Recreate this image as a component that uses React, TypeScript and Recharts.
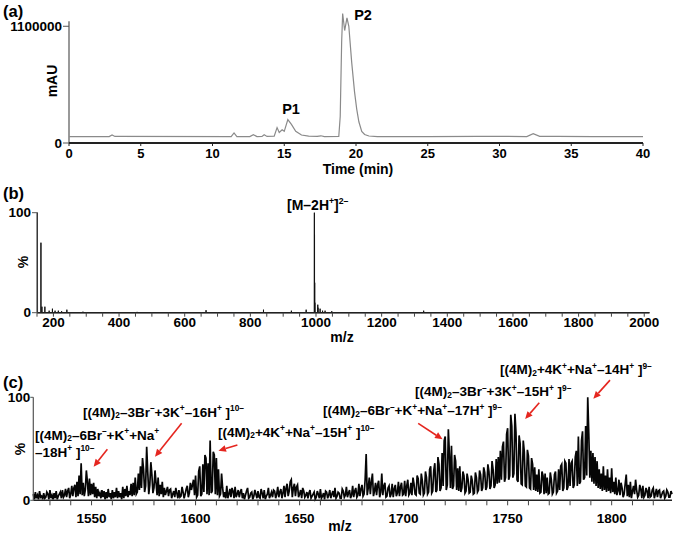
import React from 'react';
import { LineChart, Line, XAxis, YAxis, ReferenceLine } from 'recharts';

const FONT = '"Liberation Sans", Arial, Helvetica, sans-serif';

// ---------- Panel (a): HPLC chromatogram ----------
const hplcTime = [0, 2.8, 3.0, 3.2, 11.3, 11.5, 11.7, 12.6, 12.85, 13.1, 13.45, 13.6, 13.8, 14.3, 14.5, 14.65, 14.85, 15.0, 15.25, 15.5, 15.8, 16.2, 16.7, 17.3, 17.55, 17.8, 18.8, 18.9, 19.0, 19.07, 19.21, 19.37, 19.5, 19.7, 19.9, 20.05, 20.2, 20.4, 20.6, 20.9, 21.5, 25, 28.5, 31.9, 32.35, 32.8, 34, 36.5, 40];
const hplcSignal = [60000, 60000, 75000, 62000, 60000, 95000, 60000, 60000, 78000, 60000, 62000, 78000, 62000, 65000, 145000, 100000, 125000, 110000, 220000, 175000, 110000, 75000, 64000, 62000, 68000, 61000, 62000, 250000, 950000, 1220000, 1060000, 1180000, 1100000, 760000, 480000, 320000, 200000, 110000, 80000, 66000, 61000, 60000, 63000, 61000, 88000, 62000, 63000, 61000, 60000];
const hplcXTicks = [0, 5, 10, 15, 20, 25, 30, 35, 40];
const hplcYTicks = [0, 1100000];

// ---------- Panel (b): ESI-MS, full range ----------
const msPeakMz = [151.5, 162, 165, 174, 187, 197, 205, 215, 225, 241, 290, 455, 665, 840, 925, 970, 995, 995.5, 996, 996.5, 1005.4, 1006, 1012.5, 1020, 1027.6, 1048, 1328];
const msPeakIntensity = [100, 70, 6, 6, 2, 4, 2, 2, 1.5, 3, 1, 0.8, 2.5, 3, 2, 3, 100, 78, 30, 10, 8, 5, 4, 2, 2, 1.5, 2];
const msXTicks = [150, 200, 250, 300, 350, 400, 450, 500, 550, 600, 650, 700, 750, 800, 850, 900, 950, 1000, 1050, 1100, 1150, 1200, 1250, 1300, 1350, 1400, 1450, 1500, 1550, 1600, 1650, 1700, 1750, 1800, 1850, 1900, 1950, 2000];
const msYTicks = [0, 100];

// ---------- Panel (c): ESI-MS, zoomed, sampled every 0.5 m/z ----------
const esiStartA = 1522;
const esiA = [
  6,1, 8,2, 5,1, 9,3, 4,1,
  7,2, 3,8, 6,1, 10,2, 5,1,
  7,2, 9,1, 4,6, 8,2, 10,3,
  5,11, 3,9, 12,2, 6,14, 4,12,
  15,3, 18,4, 24,6, 36,5, 17,4,
  10,29, 18,4, 21,5, 16,6, 17,3,
  13,2, 11,4, 7,2, 10,3, 9,1,
  8,2, 11,3, 7,1, 10,2, 8,3,
  12,2, 9,3, 7,1, 13,2, 11,4,
  14,3, 9,5, 16,4, 17,5, 22,6,
  8,26, 10,33, 12,41, 30,8, 14,52,
  28,6, 15,37, 25,7, 12,29, 17,5,
  22,4, 15,6, 18,3, 12,5, 9,13,
  4,10, 11,2, 6,9, 3,12, 7,2,
  10,3, 4,13, 8,2, 6,11, 14,3,
  7,17, 10,15, 20,5,
];
const esiStartB = 1600;
const esiB = [
  24,3, 5,28, 33,4, 6,35, 8,44,
  41,6, 36,5, 58,7, 9,47, 44,6,
  41,5, 30,4, 6,26, 12,3, 8,2,
  14,2, 6,11, 3,12, 9,2, 13,3,
  6,10, 3,8, 11,2, 7,1, 5,9,
  12,2, 3,7, 8,1, 4,10, 6,2,
  9,3, 2,11, 7,2, 10,1, 4,6,
  12,2, 5,8, 3,10, 9,2, 6,13,
  3,8, 11,2, 7,14, 3,12, 16,4,
  9,18, 20,3, 12,16, 4,13, 15,3,
  6,10, 2,12, 9,3, 5,8, 2,7,
  10,2, 4,6, 8,1, 3,9, 6,2,
  11,2, 4,7, 1,9, 8,2, 5,10,
  2,6, 9,3, 12,2, 4,8, 7,2,
  2,11, 9,3, 5,13, 3,7, 10,2,
  5,14, 3,9, 12,3, 5,16, 4,11,
  15,4, 6,20, 45,5, 12,22, 6,18,
  26,4, 9,17, 5,15, 19,3, 8,26,
  5,14, 17,3, 4,12, 14,3, 6,16,
  3,11, 15,4, 7,18, 4,13, 17,5,
];
const esiStartC = 1700;
const esiC = [
  6,19, 4,14, 20,5, 7,17, 5,22,
  16,6, 5,24, 21,7, 6,26, 19,5,
  7,28, 22,6, 8,30, 33,7, 9,29,
  36,8, 10,42, 35,9, 12,46, 14,58,
  62,10, 15,69, 45,12, 53,11, 14,44,
  38,10, 31,9, 33,8, 12,28, 24,7,
  9,26, 20,7, 8,24, 19,6, 7,27,
  22,8, 10,29, 25,9, 12,32, 27,10,
  13,35, 28,11, 14,38, 30,12, 15,40,
  16,42, 17,48, 20,52, 57,18, 22,64,
  70,20, 24,83, 72,22, 26,84, 66,20,
  18,63, 55,16, 15,58, 47,14, 13,49,
  43,12, 11,41, 35,10, 32,9, 25,8,
  30,7, 8,28, 24,6, 26,7, 22,6,
  7,27, 20,6, 8,25, 28,7, 9,30,
  10,33, 35,9, 12,38, 36,10, 13,40,
  14,36, 38,12, 15,42, 48,14, 62,16,
  18,58, 67,20, 22,72, 24,100, 65,22,
  48,18, 46,16, 42,14, 38,12, 30,11,
  26,9, 33,10, 24,8, 30,9, 22,7,
  31,8, 18,6, 22,5, 9,20, 5,17,
  12,3, 6,16, 25,4, 15,3, 18,2,
  9,14, 6,20, 10,3, 5,15, 11,2,
  14,3, 5,12, 9,2, 13,3, 4,10,
  12,2, 6,11, 3,9, 10,2, 5,8,
  9,2, 4,10, 8,3, 3,9, 6,
];
const esiStep = 0.5;
const esiXTicks = [1530, 1540, 1550, 1560, 1570, 1580, 1590, 1600, 1610, 1620, 1630, 1640, 1650, 1660, 1670, 1680, 1690, 1700, 1710, 1720, 1730, 1740, 1750, 1760, 1770, 1780, 1790, 1800, 1810, 1820];
const esiYTicks = [0, 100];

// annotation arrows for panel (c): tail -> head, in data coordinates (m/z, %)
const arrowTailMz = [1557.6, 1593.3, 1620.1, 1707.0, 1765.2, 1799.2];
const arrowTailPct = [49.5, 74.7, 53.7, 74.7, 94.7, 116.7];
const arrowHeadMz = [1551.0, 1580.5, 1611.0, 1718.7, 1758.4, 1791.2];
const arrowHeadPct = [32.6, 42.3, 48.2, 59.2, 78.9, 98.6];

// ---------- tables built for the library ----------
const dataA = hplcTime.map((t, i) => ({ t, v: hplcSignal[i] }));

const dataB = (() => {
  const pts: { mz: number; v: number }[] = [{ mz: 150, v: 0 }];
  msPeakMz.forEach((mz, i) => {
    pts.push({ mz: mz - 0.12, v: 0 });
    pts.push({ mz, v: msPeakIntensity[i] });
    pts.push({ mz: mz + 0.12, v: 0 });
  });
  pts.push({ mz: 2016, v: 0 });
  return pts.sort((a, b) => a.mz - b.mz);
})();

const dataC = [
  ...esiA.map((v, i) => ({ mz: esiStartA + i * esiStep, v })),
  ...esiB.map((v, i) => ({ mz: esiStartB + i * esiStep, v })),
  ...esiC.map((v, i) => ({ mz: esiStartC + i * esiStep, v })),
];

// ---------- helpers ----------
const tickStyle = (size: number) => ({ fill: '#000', fontSize: size, fontWeight: 'bold', fontFamily: FONT });

const ArrowShape = (props: any) => {
  const { x1, y1, x2, y2 } = props;
  const ang = Math.atan2(y2 - y1, x2 - x1);
  const L = 7.5;
  const W = 3.4;
  const bx = x2 - L * Math.cos(ang);
  const by = y2 - L * Math.sin(ang);
  const pts = `${x2},${y2} ${bx + W * Math.sin(ang)},${by - W * Math.cos(ang)} ${bx - W * Math.sin(ang)},${by + W * Math.cos(ang)}`;
  return (
    <g>
      <line x1={x1} y1={y1} x2={bx} y2={by} stroke="#e5261f" strokeWidth={1.6} />
      <polygon points={pts} fill="#e5261f" />
    </g>
  );
};

const T = ({ x, y, children, size = 14, rotate = 0, center = true, lh = 1 }: any) => (
  <div
    style={{
      position: 'absolute',
      left: x,
      top: y,
      transform: `translate(${center ? '-50%' : '0'}, -50%) rotate(${rotate}deg)`,
      whiteSpace: 'nowrap',
      fontWeight: 'bold',
      fontSize: size,
      lineHeight: lh,
      fontFamily: FONT,
      color: '#000',
    }}
  >
    {children}
  </div>
);

const Sup = ({ children }: any) => (
  <span style={{ fontSize: '62%', position: 'relative', top: '-0.6em' }}>{children}</span>
);
const Sub = ({ children }: any) => (
  <span style={{ fontSize: '62%', position: 'relative', top: '0.22em' }}>{children}</span>
);

const layer: React.CSSProperties = { position: 'absolute', left: 0, top: 0 };

export default function App() {
  return (
    <div style={{ position: 'absolute', left: 0, top: 0, width: 675, height: 533, background: '#fff', overflow: 'hidden' }}>
      {/* Panel (a) */}
      <div style={layer}>
        <LineChart width={675} height={533} data={dataA} margin={{ top: 11, right: 32, left: 9, bottom: 360 }}>
          <XAxis
            dataKey="t"
            type="number"
            domain={[0, 40]}
            ticks={hplcXTicks}
            interval={0}
            height={30}
            tickSize={3}
            tickMargin={3}
            axisLine={{ stroke: '#222', strokeWidth: 1.8 }}
            tickLine={{ stroke: '#222' }}
            tick={tickStyle(13)}
          />
          <YAxis
            type="number"
            domain={[0, 1244000]}
            ticks={hplcYTicks}
            interval={0}
            width={60}
            axisLine={false}
            tickSize={6}
            tickMargin={1}
            tickLine={{ stroke: '#555' }}
            tick={tickStyle(13.5)}
          />
          <ReferenceLine segment={[{ x: 0, y: 0 }, { x: 0, y: 1147000 }]} stroke="#555" strokeWidth={1.2} ifOverflow="visible" />
          <Line dataKey="v" type="linear" stroke="#8a8a8a" strokeWidth={1.2} dot={false} isAnimationActive={false} />
        </LineChart>
      </div>

      {/* Panel (b) */}
      <div style={layer}>
        <LineChart width={675} height={533} data={dataB} margin={{ top: 212.7, right: 25.5, left: 7, bottom: 190.3 }}>
          <XAxis
            dataKey="mz"
            type="number"
            domain={[150, 2016]}
            ticks={msXTicks}
            interval={0}
            height={30}
            tickSize={4}
            tickMargin={1}
            tickFormatter={(v: number) => (v % 200 === 0 ? String(v) : '')}
            axisLine={{ stroke: '#222', strokeWidth: 1.6 }}
            tickLine={{ stroke: '#444' }}
            tick={tickStyle(13.5)}
          />
          <YAxis
            type="number"
            domain={[0, 100]}
            ticks={msYTicks}
            interval={0}
            width={30}
            tickSize={5}
            tickMargin={1}
            axisLine={{ stroke: '#555', strokeWidth: 1.2 }}
            tickLine={{ stroke: '#555' }}
            tick={tickStyle(13.5)}
          />
          <Line dataKey="v" type="linear" stroke="#111" strokeWidth={1} dot={false} isAnimationActive={false} />
        </LineChart>
      </div>

      {/* Panel (c) */}
      <div style={layer}>
        <LineChart width={675} height={533} data={dataC} margin={{ top: 397.3, right: 3, left: 3.3, bottom: 2.7 }}>
          <XAxis
            dataKey="mz"
            type="number"
            domain={[1522, 1829]}
            ticks={esiXTicks}
            interval={0}
            height={30}
            tickSize={5}
            tickMargin={8}
            tickFormatter={(v: number) => (v % 50 === 0 ? String(v) : '')}
            axisLine={{ stroke: '#222', strokeWidth: 1.6 }}
            tickLine={{ stroke: '#444' }}
            tick={tickStyle(13.5)}
          />
          <YAxis
            type="number"
            domain={[0, 100]}
            ticks={esiYTicks}
            interval={0}
            width={30}
            tickSize={3}
            tickMargin={0}
            axisLine={{ stroke: '#555', strokeWidth: 1.2 }}
            tickLine={{ stroke: '#555' }}
            tick={tickStyle(13.5)}
          />
          <Line dataKey="v" type="linear" stroke="#050505" strokeWidth={1.7} strokeLinejoin="miter" dot={false} isAnimationActive={false} />
          {arrowTailMz.map((mz, i) => (
            <ReferenceLine
              key={i}
              segment={[{ x: mz, y: arrowTailPct[i] }, { x: arrowHeadMz[i], y: arrowHeadPct[i] }]}
              ifOverflow="visible"
              shape={ArrowShape}
            />
          ))}
        </LineChart>
      </div>

      {/* Text overlays */}
      <T x={3} y={11} size={16.5} center={false}>(a)</T>
      <T x={3} y={193} size={16.5} center={false}>(b)</T>
      <T x={3} y={381.5} size={16.5} center={false}>(c)</T>

      <T x={52} y={81} rotate={-90}>mAU</T>
      <T x={358} y={168.5}>Time (min)</T>
      <T x={291} y={109} size={14.5}>P1</T>
      <T x={363} y={15} size={14.5}>P2</T>

      <T x={23} y={262} rotate={-90}>%</T>
      <T x={342} y={337}>m/z</T>
      <T x={287} y={204.5} center={false}>[M–2H<Sup>+</Sup>]<Sup>2–</Sup></T>

      <T x={20} y={449} rotate={-90}>%</T>
      <T x={340} y={526}>m/z</T>
      <T x={35} y={444.5} center={false} size={13.5} lh="15px">
        [(4M)<Sub>2</Sub>–6Br<Sup>–</Sup>+K<Sup>+</Sup>+Na<Sup>+</Sup>
        <br />
        –18H<Sup>+</Sup> ]<Sup>10–</Sup>
      </T>
      <T x={83} y={412.5} center={false} size={13.5}>[(4M)<Sub>2</Sub>–3Br<Sup>–</Sup>+3K<Sup>+</Sup>–16H<Sup>+</Sup> ]<Sup>10–</Sup></T>
      <T x={218} y={432.5} center={false} size={13.5}>[(4M)<Sub>2</Sub>+4K<Sup>+</Sup>+Na<Sup>+</Sup>–15H<Sup>+</Sup> ]<Sup>10–</Sup></T>
      <T x={323} y={411} center={false} size={13.5}>[(4M)<Sub>2</Sub>–6Br<Sup>–</Sup>+K<Sup>+</Sup>+Na<Sup>+</Sup>–17H<Sup>+</Sup> ]<Sup>9–</Sup></T>
      <T x={415} y={391.7} center={false} size={13.5}>[(4M)<Sub>2</Sub>–3Br<Sup>–</Sup>+3K<Sup>+</Sup>–15H<Sup>+</Sup> ]<Sup>9–</Sup></T>
      <T x={500} y={370} center={false} size={13.5}>[(4M)<Sub>2</Sub>+4K<Sup>+</Sup>+Na<Sup>+</Sup>–14H<Sup>+</Sup> ]<Sup>9–</Sup></T>
    </div>
  );
}
